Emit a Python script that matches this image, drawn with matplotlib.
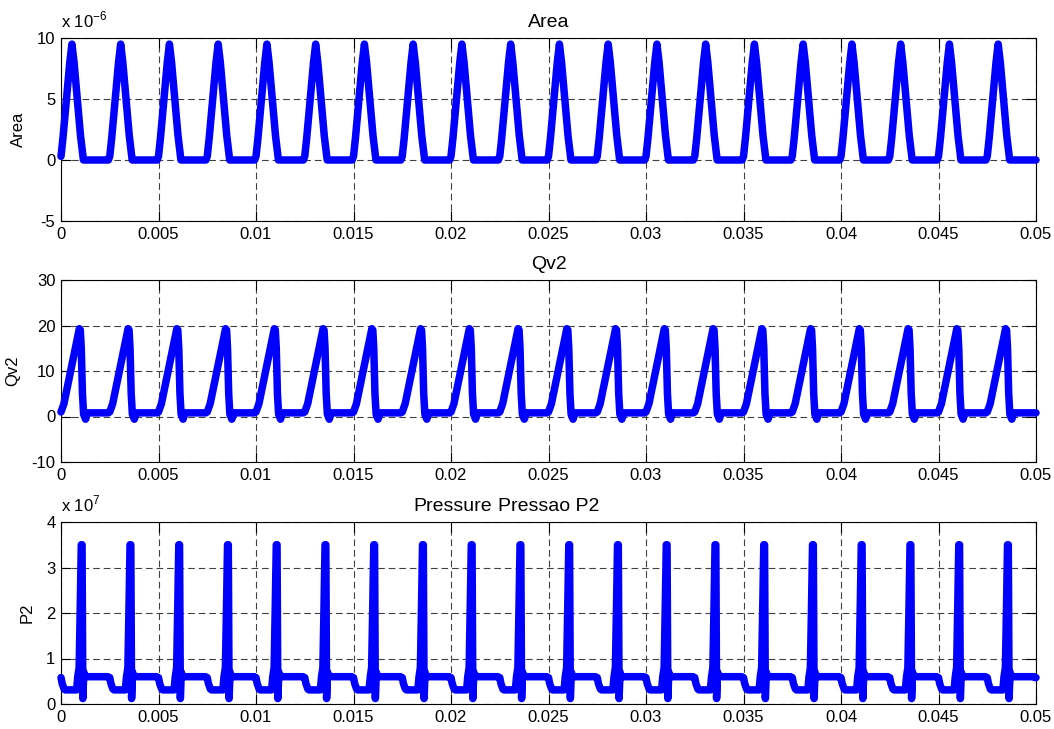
import matplotlib
matplotlib.use('Agg')
import matplotlib.pyplot as plt
import numpy as np
from matplotlib.ticker import FuncFormatter, MultipleLocator

# one cycle of each signal; the cycle repeats every 2.5 ms
period = 0.0025
n_cycles = 20
t_end = 0.05

area_phase = [0.0, 0.00010, 0.00045, 0.00056, 0.00067, 0.00100, 0.00115, 0.00243]
area_value = [0.3e-6, 1.8e-6, 8.0e-6, 9.5e-6, 8.0e-6, 2.0e-6, 0.0, 0.0]

qv2_phase = [0.0, 0.00015, 0.00094, 0.00099, 0.00104, 0.00110, 0.00116, 0.00126, 0.00136, 0.00242]
qv2_value = [1.0, 2.8, 19.3, 19.0, 15.0, 5.0, 0.5, -0.6, 0.8, 0.8]

p2_phase = [0.0, 0.00006, 0.00016, 0.00022, 0.00080, 0.00086, 0.00093, 0.00099, 0.00104,
            0.00108, 0.00112, 0.00117, 0.00122, 0.00240, 0.00246]
p2_value = [0.58e7, 0.45e7, 0.33e7, 0.31e7, 0.31e7, 0.60e7, 0.80e7, 2.2e7, 3.5e7,
            3.5e7, 0.12e7, 0.70e7, 0.60e7, 0.60e7, 0.58e7]

x_ticks = [0, 0.005, 0.01, 0.015, 0.02, 0.025, 0.03, 0.035, 0.04, 0.045, 0.05]


def cycles(phase, value):
    t = np.concatenate([k * period + np.asarray(phase) for k in range(n_cycles)] + [[t_end]])
    v = np.concatenate([np.asarray(value, dtype=float)] * n_cycles + [[value[-1]]])
    return t, v


plt.rcParams['font.family'] = ['Liberation Sans', 'DejaVu Sans']
plt.rcParams['mathtext.fontset'] = 'custom'
plt.rcParams['mathtext.rm'] = 'Liberation Sans'
plt.rcParams['axes.unicode_minus'] = False

fig = plt.figure(figsize=(10.54, 7.29), dpi=100)
left, width = 61 / 1054, 975 / 1054
boxes = [(1 - 221 / 729, 183 / 729), (1 - 462 / 729, 182 / 729), (1 - 704 / 729, 182 / 729)]

panels = [
    ('Area', 'Area', area_phase, area_value, (-5e-6, 10e-6), 5e-6, 1e-6, 'x 10$^{-6}$'),
    ('Qv2', 'Qv2', qv2_phase, qv2_value, (-10, 30), 10, 1, None),
    ('Pressao P2', 'P2', p2_phase, p2_value, (0, 4e7), 1e7, 1e7, 'x 10$^{7}$'),
]

for (bottom, height), (title, ylab, ph, val, ylim, step, scale, expo) in zip(boxes, panels):
    ax = fig.add_axes([left, bottom, width, height])
    t, v = cycles(ph, val)
    ax.plot(t, v, color='#0000ff', lw=5.4, solid_joinstyle='round',
            solid_capstyle='round', clip_on=False, zorder=3)
    ax.set_xlim(0, t_end)
    ax.set_ylim(*ylim)
    ax.set_xticks(x_ticks)
    ax.xaxis.set_major_formatter(FuncFormatter(lambda x, p: f'{x:g}'))
    ax.yaxis.set_major_locator(MultipleLocator(step))
    ax.yaxis.set_major_formatter(FuncFormatter(lambda y, p, s=scale: f'{y / s:g}'))
    ax.grid(True, color='0.25', lw=0.8, dashes=(6, 3.5))
    ax.tick_params(direction='in', length=7, width=0.8, top=True, right=True, labelsize=12, pad=4)
    for sp in ax.spines.values():
        sp.set_linewidth(0.8)
    ax.set_title(title, fontsize=14, pad=8)
    ax.set_ylabel(ylab, fontsize=12, labelpad=8)
    if expo:
        ax.text(0, 1.04, expo, transform=ax.transAxes, fontsize=12, ha='left', va='bottom')

# 'Pressure' sits just left of the last title, on the same line
fig.canvas.draw()
ax = fig.axes[-1]
tb = ax.title.get_window_extent()
inv = ax.transAxes.inverted()
x0, y0 = inv.transform((tb.x0 - 6, tb.y0))
ax.text(x0, y0, 'Pressure', transform=ax.transAxes, fontsize=14, ha='right', va='bottom')

fig.savefig('out.png', dpi=100)
